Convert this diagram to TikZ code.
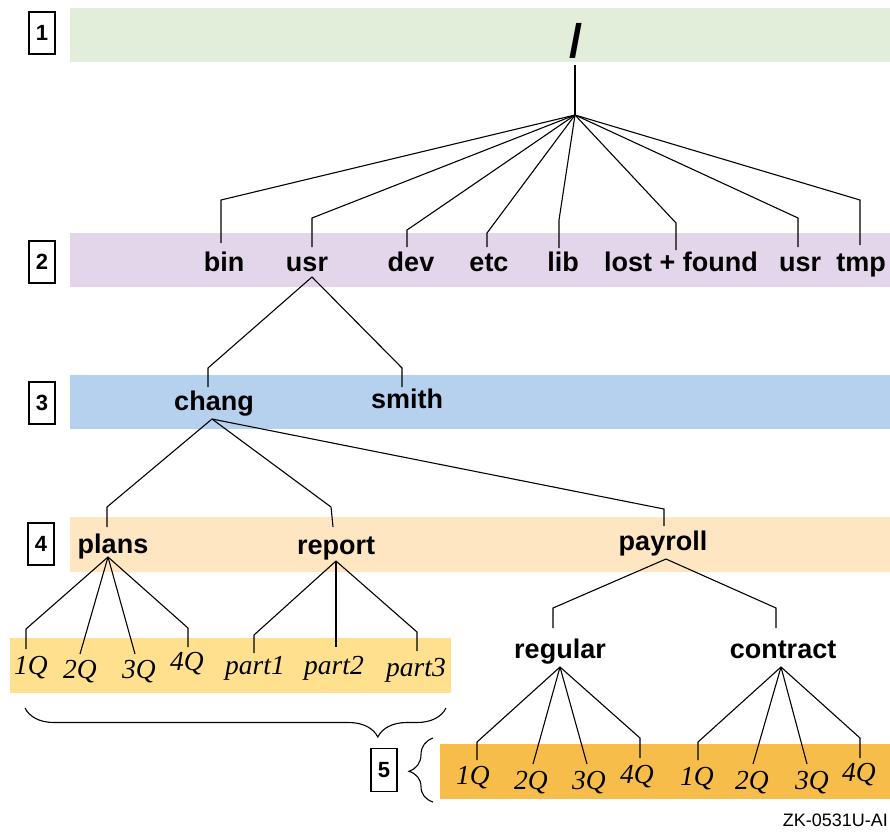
\documentclass[tikz,border=0pt]{standalone}
\usepackage{fontspec}
\setmainfont{Liberation Sans}
\newfontfamily\qfont{Liberation Serif}
\usetikzlibrary{decorations.pathreplacing}
\definecolor{bandA}{RGB}{226,238,217}
\definecolor{bandB}{RGB}{228,214,234}
\definecolor{bandC}{RGB}{182,209,238}
\definecolor{bandD}{RGB}{255,230,194}
\definecolor{bandE}{RGB}{254,224,143}
\definecolor{bandF}{RGB}{246,189,75}
\tikzset{
  lbl/.style={font=\fontsize{27}{27}\selectfont\bfseries, anchor=base, inner sep=0pt},
  qlbl/.style={font=\fontsize{27.5}{27.5}\selectfont\qfont\itshape, anchor=base, inner sep=0pt},
  numbox/.style={draw, line width=1.4pt, minimum width=26pt, minimum height=42pt, inner sep=0pt, font=\fontsize{22}{22}\selectfont\bfseries},
  link/.style={line width=1.1pt, line join=miter},
  bracestyle/.style={line width=1.1pt, decorate}
}
\begin{document}
\begin{tikzpicture}[x=1pt,y=-1pt]
\useasboundingbox (0,0) rectangle (890,831);
% bands
\fill[bandA] (70,8) rectangle (890,62);
\fill[bandB] (70,233) rectangle (890,287);
\fill[bandC] (70,375) rectangle (890,429);
\fill[bandD] (70,517) rectangle (890,572);
\fill[bandE] (10,638) rectangle (451,693);
\fill[bandF] (440,744) rectangle (890,799);

% level boxes
\node[numbox] (n1) at (42,33) {1};
\node[numbox] (n2) at (42,262) {2};
\node[numbox] (n3) at (42,403) {3};
\node[numbox] (n4) at (41,544) {4};
\node[numbox, minimum height=43pt] (n5) at (384,770) {5};

% level 1
\node[font=\fontsize{47}{47}\selectfont\bfseries, anchor=base, inner sep=0pt] (root) at (576,57) {/};
% level 2
\node[lbl] (bin) at (224,271) {bin};
\node[lbl] (usrA) at (307,271) {usr};
\node[lbl] (dev) at (411,271) {dev};
\node[lbl] (etc) at (489,271) {etc};
\node[lbl] (lib) at (563,271) {lib};
\node[lbl] (lost) at (681,271) {lost + found};
\node[lbl] (usrB) at (800,271) {usr};
\node[lbl] (tmp) at (861,271) {tmp};
% level 3
\node[lbl] (chang) at (214,410) {chang};
\node[lbl] (smith) at (407,408) {smith};
% level 4
\node[lbl] (plans) at (113,553) {plans};
\node[lbl] (report) at (336,554) {report};
\node[lbl] (payroll) at (663,550) {payroll};
\node[lbl] (regular) at (560,658) {regular};
\node[lbl] (contract) at (783,658) {contract};
% level 5
\node[qlbl] (pQ1) at (31,674) {1Q};
\node[qlbl] (pQ2) at (80,678) {2Q};
\node[qlbl] (pQ3) at (139,678) {3Q};
\node[qlbl] (pQ4) at (187,670) {4Q};
\node[qlbl] (part1) at (255,674) {part1};
\node[qlbl] (part2) at (334,674) {part2};
\node[qlbl] (part3) at (416,676) {part3};
\node[qlbl] (rQ1) at (473,784) {1Q};
\node[qlbl] (rQ2) at (531,789) {2Q};
\node[qlbl] (rQ3) at (589,789) {3Q};
\node[qlbl] (rQ4) at (637,783) {4Q};
\node[qlbl] (cQ1) at (697,785) {1Q};
\node[qlbl] (cQ2) at (752,789) {2Q};
\node[qlbl] (cQ3) at (812,789) {3Q};
\node[qlbl] (cQ4) at (859,781) {4Q};

\node[font=\fontsize{18}{18}\selectfont, anchor=base east, inner sep=0pt] (tag) at (888,826) {ZK-0531U-AI};

% coordinates: apexes, knees and ends
\coordinate (root-foot) at (575,65);
\coordinate (root-hub) at (575,115);
\coordinate (bin-k) at (221,200);  \coordinate (bin-e) at (221,243);
\coordinate (usrA-k) at (312,218); \coordinate (usrA-e) at (312,247);
\coordinate (dev-k) at (407,230);  \coordinate (dev-e) at (407,247);
\coordinate (etc-k) at (487,233);  \coordinate (etc-e) at (487,247);
\coordinate (lib-k) at (559,220);  \coordinate (lib-e) at (559,248);
\coordinate (lost-k) at (676,223); \coordinate (lost-e) at (676,250);
\coordinate (usrB-k) at (798,218); \coordinate (usrB-e) at (798,247);
\coordinate (tmp-k) at (860,200);  \coordinate (tmp-e) at (860,245);

\coordinate (usrA-apex) at (312,277);
\coordinate (chang-k) at (208,368); \coordinate (chang-e) at (208,387);
\coordinate (smith-k) at (402,368); \coordinate (smith-e) at (402,387);

\coordinate (chang-apex) at (212,419);
\coordinate (plans-k) at (107,507);   \coordinate (plans-e) at (107,527);
\coordinate (report-k) at (331,507);  \coordinate (report-e) at (333,527);
\coordinate (payroll-k) at (664,509); \coordinate (payroll-e) at (664,526);

\coordinate (plans-apex) at (108,557);
\coordinate (pQ1-k) at (26,629);  \coordinate (pQ1-e) at (26,649);
\coordinate (pQ2-e) at (80,654);
\coordinate (pQ3-e) at (135,654);
\coordinate (pQ4-k) at (188,628); \coordinate (pQ4-e) at (188,647);

\coordinate (report-apex) at (336,561);
\coordinate (part1-k) at (254,635); \coordinate (part1-e) at (254,653);
\coordinate (part2-e) at (336,647);
\coordinate (part3-k) at (417,632); \coordinate (part3-e) at (417,651);

\coordinate (payroll-apex) at (666,559);
\coordinate (regular-k) at (553,608);  \coordinate (regular-e) at (553,628);
\coordinate (contract-k) at (776,608); \coordinate (contract-e) at (776,628);

\coordinate (regular-apex) at (560,667);
\coordinate (rQ1-k) at (477,742); \coordinate (rQ1-e) at (477,760);
\coordinate (rQ2-e) at (533,764);
\coordinate (rQ3-e) at (587,764);
\coordinate (rQ4-k) at (640,738); \coordinate (rQ4-e) at (640,758);

\coordinate (contract-apex) at (781,667);
\coordinate (cQ1-k) at (698,742); \coordinate (cQ1-e) at (698,760);
\coordinate (cQ2-e) at (753,764);
\coordinate (cQ3-e) at (807,764);
\coordinate (cQ4-k) at (860,738); \coordinate (cQ4-e) at (860,758);

% connectors
\draw[link] (root-foot) -- (root-hub);
\foreach \c in {bin,usrA,dev,etc,lib,lost,usrB,tmp}
  \draw[link] (root-hub) -- (\c-k) -- (\c-e);
\foreach \c in {chang,smith}
  \draw[link] (usrA-apex) -- (\c-k) -- (\c-e);
\foreach \c in {plans,report,payroll}
  \draw[link] (chang-apex) -- (\c-k) -- (\c-e);
\draw[link] (plans-apex) -- (pQ1-k) -- (pQ1-e);
\draw[link] (plans-apex) -- (pQ2-e);
\draw[link] (plans-apex) -- (pQ3-e);
\draw[link] (plans-apex) -- (pQ4-k) -- (pQ4-e);
\draw[link] (report-apex) -- (part1-k) -- (part1-e);
\draw[link] (report-apex) -- (part2-e);
\draw[link] (report-apex) -- (part3-k) -- (part3-e);
\foreach \c in {regular,contract}
  \draw[link] (payroll-apex) -- (\c-k) -- (\c-e);
\draw[link] (regular-apex) -- (rQ1-k) -- (rQ1-e);
\draw[link] (regular-apex) -- (rQ2-e);
\draw[link] (regular-apex) -- (rQ3-e);
\draw[link] (regular-apex) -- (rQ4-k) -- (rQ4-e);
\draw[link] (contract-apex) -- (cQ1-k) -- (cQ1-e);
\draw[link] (contract-apex) -- (cQ2-e);
\draw[link] (contract-apex) -- (cQ3-e);
\draw[link] (contract-apex) -- (cQ4-k) -- (cQ4-e);

% braces
\coordinate (hb-a) at (25,708);
\coordinate (hb-b) at (446,708);
\draw[bracestyle, decoration={brace, mirror, amplitude=29pt, aspect=0.838}] (hb-a) -- (hb-b);
\coordinate (vb-a) at (433,802);
\coordinate (vb-b) at (433,738);
\draw[bracestyle, decoration={brace, amplitude=24pt, aspect=0.48}] (vb-a) -- (vb-b);
\end{tikzpicture}
\end{document}
